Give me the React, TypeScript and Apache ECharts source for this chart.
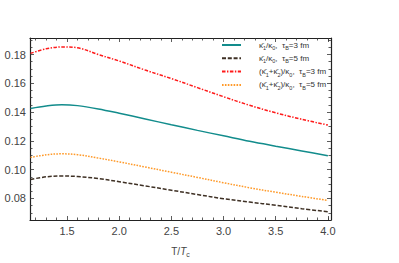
import React, { useEffect, useRef } from "react";
import * as echarts from "echarts";

const temps = [1.15, 1.3, 1.45, 1.6, 1.8, 2.0, 2.25, 2.5, 2.75, 3.0, 3.25, 3.5, 3.75, 4.0];
const kappa1Tau3 = [0.1425, 0.1442, 0.1451, 0.1445, 0.1422, 0.1392, 0.1352, 0.1312, 0.1273, 0.1235, 0.1197, 0.1163, 0.113, 0.1097];
const kappa1Tau5 = [0.0932, 0.095, 0.0956, 0.0952, 0.0938, 0.0916, 0.0887, 0.0857, 0.0827, 0.0798, 0.0775, 0.0752, 0.0729, 0.0707];
const kappaSumTau3 = [0.1808, 0.184, 0.1853, 0.1847, 0.18, 0.1755, 0.1692, 0.1633, 0.157, 0.1507, 0.1447, 0.1395, 0.135, 0.131];
const kappaSumTau5 = [0.1085, 0.1103, 0.111, 0.1104, 0.108, 0.1054, 0.1018, 0.0982, 0.0946, 0.0909, 0.0874, 0.0843, 0.0814, 0.0786];

const xMajorTicks = [1.5, 2.0, 2.5, 3.0, 3.5, 4.0];
const xMinorTicks = [1.2, 1.3, 1.4, 1.6, 1.7, 1.8, 1.9, 2.1, 2.2, 2.3, 2.4, 2.6, 2.7, 2.8, 2.9, 3.1, 3.2, 3.3, 3.4, 3.6, 3.7, 3.8, 3.9, 4.0];
const yMajorTicks = [0.08, 0.1, 0.12, 0.14, 0.16, 0.18];
const yMinorTicks = [0.07, 0.075, 0.085, 0.09, 0.095, 0.105, 0.11, 0.115, 0.125, 0.13, 0.135, 0.145, 0.15, 0.155, 0.165, 0.17, 0.175, 0.185, 0.19];

const seriesNames = ["k1_3", "k1_5", "ks_3", "ks_5"];
const legendTexts: Record<string, string> = {
  k1_3: "{m|κ̄}{s|1}{m|/κ}{s|0}{m|,  τ}{s|B}{m|=3 fm}",
  k1_5: "{m|κ̄}{s|1}{m|/κ}{s|0}{m|,  τ}{s|B}{m|=5 fm}",
  ks_3: "{m|(κ̄}{s|1}{m|+κ̄}{s|2}{m|)/κ}{s|0}{m|,  τ}{s|B}{m|=3 fm}",
  ks_5: "{m|(κ̄}{s|1}{m|+κ̄}{s|2}{m|)/κ}{s|0}{m|,  τ}{s|B}{m|=5 fm}",
};

const X_MIN = 1.145;
const X_MAX = 4.03;
const Y_MIN = 0.065;
const Y_MAX = 0.1915;

function pairs(vals: number[]) {
  return temps.map((t, i) => [t, vals[i]]);
}

export default function App() {
  const ref = useRef<HTMLDivElement>(null);
  useEffect(() => {
    if (!ref.current) return;
    const chart = echarts.init(ref.current, undefined, { renderer: "svg" });
    const font = "Liberation Sans, Arial, sans-serif";
    const labelColor = "#444";
    const frame = { show: true, onZero: false, lineStyle: { color: "#222", width: 1.2 } };
    const mkX = (position: "bottom" | "top", ticks: number[], len: number, labels: boolean, line: boolean) => ({
      type: "value",
      position,
      min: X_MIN,
      max: X_MAX,
      axisLine: line ? frame : { show: false },
      splitLine: { show: false },
      axisTick: {
        show: true,
        inside: true,
        length: len,
        customValues: ticks,
        lineStyle: { color: "#333", width: 0.8 },
      },
      axisLabel: labels
        ? {
            show: true,
            customValues: xMajorTicks,
            formatter: (v: number) => v.toFixed(1),
            color: labelColor,
            fontFamily: font,
            fontSize: 11,
            margin: 5,
          }
        : { show: false },
    });
    const mkY = (position: "left" | "right", ticks: number[], len: number, labels: boolean, line: boolean) => ({
      type: "value",
      position,
      min: Y_MIN,
      max: Y_MAX,
      axisLine: line ? frame : { show: false },
      splitLine: { show: false },
      axisTick: {
        show: true,
        inside: true,
        length: len,
        customValues: ticks,
        lineStyle: { color: "#333", width: 0.8 },
      },
      axisLabel: labels
        ? {
            show: true,
            customValues: yMajorTicks,
            formatter: (v: number) => v.toFixed(2),
            color: labelColor,
            fontFamily: font,
            fontSize: 11,
            margin: 4,
          }
        : { show: false },
    });

    const xAxes: any[] = [
      mkX("bottom", xMajorTicks, 4, true, true),
      mkX("bottom", xMinorTicks, 2.5, false, false),
      mkX("top", xMajorTicks, 4, false, true),
      mkX("top", xMinorTicks, 2.5, false, false),
    ];
    xAxes[0].name = "{n|T/}{i|T}{s|c}";
    xAxes[0].nameLocation = "middle";
    xAxes[0].nameGap = 24;
    xAxes[0].nameTextStyle = {
      rich: {
        n: { fontSize: 10, fontFamily: font, color: labelColor, lineHeight: 14, verticalAlign: "middle" },
        i: { fontSize: 10, fontFamily: font, color: labelColor, fontStyle: "italic", lineHeight: 14, verticalAlign: "middle" },
        s: { fontSize: 7, fontFamily: font, color: labelColor, verticalAlign: "bottom", lineHeight: 14 },
      },
    };
    const yAxes: any[] = [
      mkY("left", yMajorTicks, 4, true, true),
      mkY("left", yMinorTicks, 2.5, false, false),
      mkY("right", yMajorTicks, 4, false, true),
      mkY("right", yMinorTicks, 2.5, false, false),
    ];

    const colors = ["#128c8c", "#3e3024", "#ff1a1a", "#ff9a2a"];
    const dashes: any[] = ["solid", [4, 1.8], [3.5, 1.5, 1.4, 1.5], [1.6, 1.3]];
    const data = [kappa1Tau3, kappa1Tau5, kappaSumTau3, kappaSumTau5];

    chart.setOption({
      animation: false,
      grid: { left: 30, top: 38, right: 68, bottom: 40, containLabel: false },
      xAxis: xAxes,
      yAxis: yAxes,
      legend: {
        orient: "vertical",
        left: 221,
        top: 41,
        itemWidth: 19,
        itemHeight: 8,
        itemGap: 3.3,
        padding: 0,
        data: seriesNames,
        itemStyle: { opacity: 0 },
        formatter: (name: string) => legendTexts[name],
        textStyle: {
          padding: [0, 0, 0, 13],
          rich: {
            m: { fontSize: 8, fontFamily: font, color: "#333", lineHeight: 12, verticalAlign: "middle" },
            s: { fontSize: 5.5, fontFamily: font, color: "#333", lineHeight: 12, verticalAlign: "bottom" },
          },
        },
      },
      series: seriesNames.map((name, i) => ({
        name,
        type: "line",
        xAxisIndex: 0,
        yAxisIndex: 0,
        data: pairs(data[i]),
        smooth: 0.35,
        symbol: "none",
        color: colors[i],
        lineStyle: { color: colors[i], width: 1.5, type: dashes[i] },
      })),
    });
    return () => chart.dispose();
  }, []);
  return <div ref={ref} style={{ width: 399, height: 263, position: "absolute", left: 0, top: 0 }} />;
}
